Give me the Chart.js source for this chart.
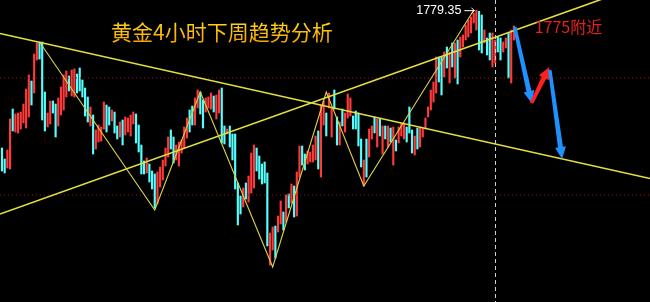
<!DOCTYPE html>
<html><head><meta charset="utf-8">
<script src="https://cdn.jsdelivr.net/npm/chart.js@4"></script>
<style>html,body{margin:0;padding:0;background:#000;overflow:hidden}#wrap{width:650px;height:302px;position:relative}</style>
</head><body><div id="wrap"><canvas id="c" width="650" height="302"></canvas></div>
<script>
// ---- data (4-hour gold bars) ----
const highs=[
1738.0,1734.7,1737.4,1746.7,1749.7,1748.2,1748.5,1748.8,1751.2,1755.7,
1759.9,1758.1,1766.2,1769.5,1769.8,1769.8,1754.8,1748.5,1752.1,1752.1,
1751.2,1753.0,1756.3,1759.9,1761.1,1759.6,1761.4,1761.7,1760.2,1762.0,
1758.4,1756.0,1753.3,1750.3,1747.9,1743.4,1744.9,1744.3,1751.8,1750.9,
1750.3,1749.4,1748.8,1744.6,1745.8,1746.4,1747.3,1747.0,1747.9,1748.8,
1748.2,1744.9,1738.9,1734.1,1735.0,1733.2,1731.1,1730.2,1730.8,1732.3,
1734.4,1738.0,1741.3,1743.4,1741.3,1738.9,1739.8,1740.4,1744.3,1747.0,
1749.4,1750.6,1753.0,1755.4,1754.8,1752.4,1753.0,1753.3,1754.5,1753.6,
1753.9,1755.4,1756.0,1744.6,1743.7,1744.6,1742.2,1742.2,1727.5,1723.6,
1726.0,1727.5,1729.6,1736.5,1738.9,1738.0,1735.6,1733.2,1733.8,1730.5,
1712.5,1714.3,1714.6,1717.6,1722.1,1718.8,1723.9,1724.2,1727.2,1726.6,
1730.8,1738.6,1738.6,1736.2,1737.1,1736.8,1738.9,1741.6,1743.1,1750.9,
1752.1,1748.5,1754.5,1750.0,1755.4,1747.3,1745.8,1749.7,1748.5,1754.2,
1753.0,1747.6,1749.1,1748.5,1740.7,1734.4,1740.7,1743.7,1744.6,1747.3,
1746.7,1746.7,1744.6,1744.6,1744.6,1744.0,1744.3,1740.4,1744.3,1745.5,
1745.5,1744.3,1750.3,1743.4,1741.6,1744.0,1744.3,1744.0,1747.0,1750.3,
1755.4,1757.8,1765.3,1765.3,1765.3,1766.8,1768.3,1766.8,1769.5,1769.5,
1770.4,1771.3,1771.9,1774.9,1776.4,1777.3,1778.5,1779.35,1779.0,1777.9,
1773.4,1771.0,1772.5,1772.5,1770.4,1771.3,1771.0,1769.8,1771.0,1772.5,
1773.4,1774.6];
const lows=[
1731.1,1730.5,1732.0,1731.7,1743.1,1742.8,1742.5,1743.7,1745.5,1744.0,
1747.3,1750.9,1754.5,1764.4,1764.7,1746.4,1743.1,1744.3,1745.2,1748.5,
1741.3,1744.6,1747.9,1749.4,1753.3,1755.1,1753.6,1753.3,1754.5,1755.1,
1753.3,1747.6,1745.8,1744.6,1736.2,1737.7,1739.8,1740.1,1743.7,1742.8,
1744.9,1746.1,1742.5,1740.7,1741.3,1738.9,1741.9,1742.8,1741.6,1745.2,
1739.5,1736.8,1730.2,1730.2,1730.5,1727.8,1725.7,1720.0,1721.2,1726.3,
1728.4,1732.6,1735.3,1737.7,1733.5,1734.4,1732.6,1736.5,1738.0,1741.0,
1742.8,1744.9,1744.9,1750.0,1748.2,1744.0,1748.8,1750.0,1749.7,1748.8,
1746.7,1748.5,1739.5,1739.2,1742.2,1738.3,1734.4,1725.7,1714.9,1718.2,
1720.3,1722.7,1721.8,1724.5,1726.0,1731.1,1728.7,1727.2,1727.5,1708.6,
1702.9,1707.4,1705.0,1712.8,1715.2,1713.4,1715.8,1720.0,1721.5,1717.3,
1717.6,1729.3,1732.9,1731.4,1733.2,1733.8,1733.8,1734.4,1731.7,1729.3,
1744.9,1741.6,1750.0,1741.3,1749.7,1738.9,1738.9,1744.6,1742.8,1747.0,
1747.6,1743.7,1743.7,1738.6,1732.3,1726.6,1729.3,1735.3,1740.7,1742.5,
1738.3,1741.6,1736.2,1740.7,1738.3,1739.8,1732.9,1737.1,1739.5,1741.6,
1740.7,1739.8,1742.5,1736.5,1735.9,1737.7,1738.3,1741.3,1743.7,1747.3,
1749.4,1751.8,1754.5,1757.8,1753.9,1759.3,1762.0,1757.5,1762.3,1759.0,
1757.2,1765.3,1768.3,1770.4,1771.3,1772.5,1775.5,1773.4,1767.4,1766.5,
1769.5,1765.9,1764.4,1762.3,1763.5,1766.8,1764.4,1766.8,1768.0,1759.0,
1757.5,1770.4];
// 1 = bar closed up (red), 0 = closed down (cyan)
const rising=[
0,0,1,1,0,1,1,1,1,1, 1,0,1,1,0,0,0,1,1,0, 0,1,1,1,1,0,1,1,0,0, 0,0,0,1,0,1,1,1,1,0,
0,1,0,0,1,0,1,1,1,1, 0,0,0,0,1,0,0,0,1,1, 1,1,1,0,0,1,1,1,1,1, 0,0,1,1,0,0,1,1,1,0,
1,1,0,0,1,0,0,0,0,0, 1,0,1,1,1,0,0,0,0,0, 1,1,0,1,1,0,1,0,1,0, 1,1,0,0,1,1,1,1,0,1,
1,0,1,1,0,0,1,0,1,1, 1,0,0,0,0,1,0,1,1,0, 1,0,1,0,1,0,1,0,1,1, 1,0,0,0,1,0,1,1,1,1,
1,1,1,0,0,1,0,1,0,1, 0,1,1,1,1,1,1,1,0,0, 1,0,0,1,1,0,0,1,1,0, 1,1];

// trend lines (bar index, price)
const resistX=[-0.75,241.8], resistY=[1772.35,1728.85];
const supportX=[-0.75,241.8], supportY=[1718.2,1787.8];
const zigX=[14,57,74,101,121,135,176];
const zigY=[1769.8,1719.4,1754.8,1702.3,1754.8,1726.6,1779.35];
const levelPrices=[1759.0,1723.9];
const markerIndex=184.1;
// projected path arrows (bar index, price)
const arrowX=[191.3,197.6,204.2,204.4,209.0];
const arrowY=[1774.3,1751.5,1762.3,1761.4,1734.7];
const arrowKinds=['down','up','down'];
const peakIndex=177, peakValue=1779.35, peakText='1779.35';
const targetText='1775附近';
const titleText='黄金4小时下周趋势分析';

const XMIN=-0.746, XMAX=241.79, YMIN=1691.8, YMAX=1782.4;
const RED='#ff3a3a', CYAN='#55ffff', YEL='#e4e040', BLUE='#1e90ff';

const bars=highs.map((h,i)=>({x:i,y:[lows[i],h]}));
const barColors=rising.map(r=>r?RED:CYAN);
const pts=(xs,ys)=>xs.map((x,i)=>({x:x,y:ys[i]}));

function drawArrow(ctx,x1,y1,x2,y2,color,shaft,headW,headL){
  const dx=x2-x1, dy=y2-y1, len=Math.hypot(dx,dy);
  const ux=dx/len, uy=dy/len, nx=-uy, ny=ux;
  const bx=x2-ux*headL, by=y2-uy*headL;
  ctx.beginPath();
  ctx.moveTo(x1+nx*shaft*0.35,y1+ny*shaft*0.35);
  ctx.lineTo(bx+nx*shaft/2,by+ny*shaft/2);
  ctx.lineTo(bx+nx*headW/2,by+ny*headW/2);
  ctx.lineTo(x2,y2);
  ctx.lineTo(bx-nx*headW/2,by-ny*headW/2);
  ctx.lineTo(bx-nx*shaft/2,by-ny*shaft/2);
  ctx.lineTo(x1-nx*shaft*0.35,y1-ny*shaft*0.35);
  ctx.closePath();
  ctx.fillStyle=color; ctx.fill();
}

const overlay={
  id:'overlay',
  beforeDraw(chart){const c=chart.ctx;c.save();c.fillStyle='#000';c.fillRect(0,0,chart.width,chart.height);c.restore();},
  afterDatasetsDraw(chart){
    const ctx=chart.ctx, xs=chart.scales.x, ys=chart.scales.y;
    ctx.save();
    // vertical dashed marker
    const vx=Math.round(xs.getPixelForValue(markerIndex))+0.5;
    ctx.strokeStyle='#d0d0d0'; ctx.lineWidth=1; ctx.setLineDash([4,3]);
    ctx.beginPath(); ctx.moveTo(vx,0); ctx.lineTo(vx,chart.height); ctx.stroke();
    ctx.setLineDash([]);
    // arrows
    const segs=[[0,1],[1,2],[3,4]];
    segs.forEach((s,k)=>{
      const x1=xs.getPixelForValue(arrowX[s[0]]), y1=ys.getPixelForValue(arrowY[s[0]]);
      const x2=xs.getPixelForValue(arrowX[s[1]]), y2=ys.getPixelForValue(arrowY[s[1]]);
      drawArrow(ctx,x1,y1,x2,y2,arrowKinds[k]==='up'?'#ff2020':BLUE,5,11,12);
    });
    // title
    ctx.font='21px "Noto Sans CJK SC"';
    ctx.textBaseline='middle'; ctx.textAlign='left';
    const g=ctx.createLinearGradient(0,21,0,43);
    g.addColorStop(0,'#ffd818'); g.addColorStop(1,'#f3a200');
    ctx.fillStyle=g;
    ctx.fillText(titleText,111,32);
    // peak label
    const px=xs.getPixelForValue(peakIndex), py=ys.getPixelForValue(peakValue);
    ctx.font='12.5px "Liberation Sans"'; ctx.fillStyle='#ffffff'; ctx.textAlign='right';
    ctx.fillText(peakText,px-15,py+0.5);
    ctx.strokeStyle='#ffffff'; ctx.lineWidth=1;
    ctx.beginPath(); ctx.moveTo(px-12,py+0.5); ctx.lineTo(px-2,py+0.5); ctx.stroke();
    ctx.beginPath(); ctx.moveTo(px-5,py-2.5); ctx.lineTo(px-2,py+0.5); ctx.lineTo(px-5,py+3.5); ctx.stroke();
    // target label
    const tx=xs.getPixelForValue(arrowX[0]), ty=ys.getPixelForValue(arrowY[0]);
    ctx.font='16px "Noto Sans CJK SC"'; ctx.fillStyle='#e8201c'; ctx.textAlign='left';
    ctx.fillText(targetText,tx+20,ty);
    ctx.restore();
  }
};

new Chart(document.getElementById('c'),{
  data:{datasets:[
    {type:'bar',data:bars,backgroundColor:barColors,barThickness:1.5,order:10,borderWidth:0},
    {type:'line',data:pts(resistX,resistY),borderColor:YEL,borderWidth:1.6,pointRadius:0,order:1},
    {type:'line',data:pts(supportX,supportY),borderColor:YEL,borderWidth:1.6,pointRadius:0,order:1},
    {type:'line',data:pts(zigX,zigY),borderColor:'#d8d048',borderWidth:1.1,pointRadius:0,order:2},
    {type:'line',data:pts([XMIN,XMAX],[levelPrices[0],levelPrices[0]]),borderColor:'#a80e0e',borderWidth:1,borderDash:[1,3],pointRadius:0,order:5},
    {type:'line',data:pts([XMIN,XMAX],[levelPrices[1],levelPrices[1]]),borderColor:'#a80e0e',borderWidth:1,borderDash:[1,3],pointRadius:0,order:5}
  ]},
  options:{
    responsive:false,animation:false,events:[],
    layout:{padding:0},
    plugins:{legend:{display:false},tooltip:{enabled:false},title:{display:false}},
    scales:{
      x:{type:'linear',min:XMIN,max:XMAX,display:false,offset:false,grid:{display:false}},
      y:{type:'linear',min:YMIN,max:YMAX,display:false,grid:{display:false}}
    }
  },
  plugins:[overlay]
});
</script></body></html>
